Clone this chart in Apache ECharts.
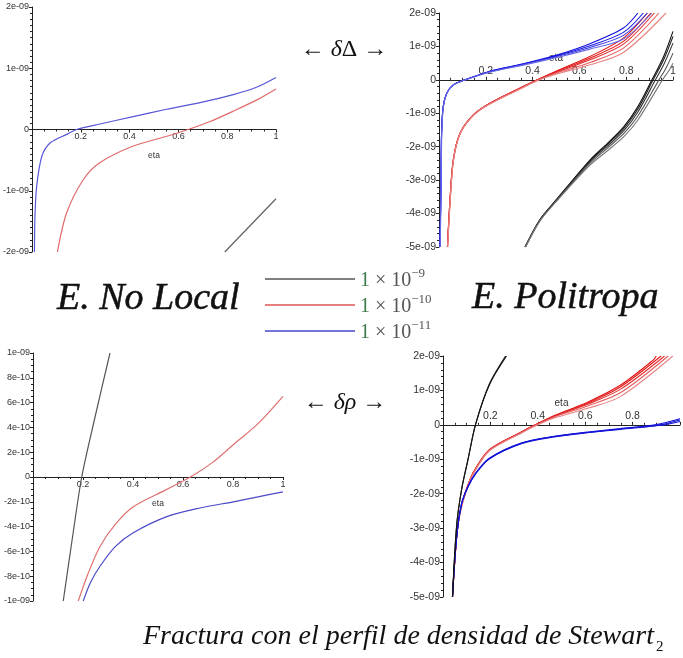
<!DOCTYPE html>
<html>
<head>
<meta charset="utf-8">
<script src="https://cdn.jsdelivr.net/npm/echarts@6/dist/echarts.min.js"></script>
<style>
  html, body { margin: 0; padding: 0; background: #fff; }
  #main { width: 683px; height: 658px; }
</style>
</head>
<body>
<div id="main"></div>
<script>
// x = eta, y in units of 1e-9
// top-left: E. No Local, delta Delta
const p1Black = [[0.79, -2.0], [1.0, -1.13]]
const p1Red = [[0.104, -2.0], [0.142, -1.36], [0.21, -0.82], [0.279, -0.54], [0.415, -0.27], [0.553, -0.11], [0.64, 0], [0.73, 0.13], [0.825, 0.3], [0.93, 0.5], [1.0, 0.66]]
const p1Blue = [[0.01, -2.0], [0.012, -1.42], [0.019, -0.93], [0.04, -0.44], [0.074, -0.22], [0.142, -0.08], [0.183, 0], [0.279, 0.09], [0.415, 0.21], [0.552, 0.33], [0.689, 0.44], [0.825, 0.57], [0.92, 0.69], [1.0, 0.85]]

// top-right: E. Politropa, delta Delta (bundles)
const p2Black = [
  [[0.368, -5], [0.43, -4.2], [0.5, -3.6], [0.645, -2.4], [0.72, -1.9], [0.79, -1.4], [0.85, -0.8], [0.91, 0], [0.96, 0.7], [1.0, 1.45]],
  [[0.368, -5], [0.43, -4.2], [0.5, -3.6], [0.645, -2.42], [0.72, -1.93], [0.79, -1.45], [0.85, -0.87], [0.915, 0], [0.96, 0.6], [1.0, 1.3]],
  [[0.368, -5], [0.43, -4.2], [0.5, -3.62], [0.645, -2.45], [0.72, -1.98], [0.79, -1.52], [0.85, -0.96], [0.925, 0], [0.96, 0.45], [1.0, 1.1]],
  [[0.37, -5], [0.43, -4.22], [0.5, -3.63], [0.645, -2.5], [0.72, -2.04], [0.79, -1.6], [0.85, -1.08], [0.94, 0], [0.97, 0.35], [1.0, 0.8]],
  [[0.37, -5], [0.43, -4.24], [0.5, -3.65], [0.645, -2.55], [0.72, -2.12], [0.79, -1.7], [0.85, -1.2], [0.955, 0], [0.98, 0.25], [1.0, 0.5]]
]
const p2Red = [
  [[0.036, -5], [0.047, -3.6], [0.061, -2.4], [0.09, -1.6], [0.147, -1.05], [0.218, -0.7], [0.36, -0.2], [0.42, 0], [0.5, 0.26], [0.645, 0.7], [0.788, 1.25], [0.89, 2]],
  [[0.036, -5], [0.047, -3.6], [0.061, -2.4], [0.09, -1.6], [0.147, -1.05], [0.218, -0.7], [0.36, -0.2], [0.42, 0], [0.5, 0.24], [0.645, 0.65], [0.788, 1.15], [0.905, 2]],
  [[0.036, -5], [0.047, -3.6], [0.061, -2.4], [0.09, -1.6], [0.147, -1.05], [0.218, -0.7], [0.36, -0.21], [0.422, 0], [0.5, 0.22], [0.645, 0.6], [0.788, 1.07], [0.92, 2]],
  [[0.037, -5], [0.048, -3.6], [0.062, -2.4], [0.091, -1.6], [0.148, -1.05], [0.218, -0.71], [0.36, -0.22], [0.425, 0], [0.5, 0.2], [0.645, 0.52], [0.788, 0.95], [0.94, 2]],
  [[0.037, -5], [0.048, -3.6], [0.062, -2.4], [0.091, -1.6], [0.148, -1.06], [0.218, -0.72], [0.36, -0.23], [0.43, 0], [0.5, 0.17], [0.645, 0.45], [0.788, 0.82], [0.97, 2]]
]
const p2Blue = [
  [[0.004, -5], [0.008, -3.4], [0.011, -1.6], [0.018, -0.8], [0.033, -0.4], [0.061, -0.15], [0.111, 0], [0.218, 0.26], [0.36, 0.48], [0.503, 0.74], [0.645, 1.08], [0.788, 1.55], [0.85, 2]],
  [[0.004, -5], [0.008, -3.4], [0.011, -1.6], [0.018, -0.8], [0.033, -0.4], [0.061, -0.15], [0.111, 0], [0.218, 0.25], [0.36, 0.47], [0.503, 0.72], [0.645, 1.02], [0.788, 1.42], [0.873, 2]],
  [[0.004, -5], [0.008, -3.4], [0.011, -1.6], [0.018, -0.8], [0.033, -0.4], [0.061, -0.15], [0.111, 0], [0.218, 0.24], [0.36, 0.46], [0.503, 0.7], [0.645, 0.97], [0.788, 1.33], [0.89, 2]],
  [[0.005, -5], [0.009, -3.4], [0.012, -1.6], [0.019, -0.8], [0.034, -0.4], [0.062, -0.15], [0.113, 0], [0.218, 0.23], [0.36, 0.44], [0.503, 0.67], [0.645, 0.92], [0.788, 1.22], [0.91, 2]]
]

// bottom-left: E. No Local, delta rho
const p3Black = [[0.121, -1.0], [0.157, -0.5], [0.195, 0], [0.25, 0.5], [0.308, 1.0]]
const p3Red = [[0.181, -1.0], [0.22, -0.78], [0.268, -0.56], [0.33, -0.38], [0.401, -0.24], [0.535, -0.1], [0.63, 0], [0.72, 0.12], [0.801, 0.26], [0.9, 0.43], [1.0, 0.65]]
const p3Blue = [[0.201, -1.0], [0.23, -0.85], [0.268, -0.72], [0.33, -0.56], [0.401, -0.45], [0.535, -0.32], [0.668, -0.25], [0.801, -0.2], [0.9, -0.16], [1.0, -0.12]]

// bottom-right: E. Politropa, delta rho (bundles)
const p4Black = [
  [[0.04, -5], [0.057, -2.96], [0.078, -1.9], [0.105, -1.03], [0.137, 0], [0.195, 1.18], [0.264, 2]],
  [[0.04, -5], [0.058, -2.9], [0.079, -1.85], [0.106, -0.98], [0.138, 0.03], [0.197, 1.18], [0.268, 2]]
]
const p4Red = [
  [[0.04, -5], [0.057, -3.3], [0.071, -2.57], [0.095, -1.95], [0.126, -1.41], [0.195, -0.73], [0.333, -0.2], [0.389, 0], [0.47, 0.27], [0.61, 0.66], [0.748, 1.15], [0.887, 1.88], [0.9, 2]],
  [[0.04, -5], [0.057, -3.3], [0.071, -2.57], [0.095, -1.95], [0.126, -1.41], [0.195, -0.73], [0.333, -0.2], [0.39, 0], [0.47, 0.26], [0.61, 0.63], [0.748, 1.1], [0.92, 2]],
  [[0.04, -5], [0.057, -3.3], [0.071, -2.57], [0.095, -1.95], [0.126, -1.42], [0.195, -0.74], [0.333, -0.21], [0.392, 0], [0.47, 0.25], [0.61, 0.6], [0.748, 1.03], [0.935, 2]],
  [[0.04, -5], [0.057, -3.3], [0.071, -2.58], [0.096, -1.95], [0.127, -1.42], [0.195, -0.75], [0.333, -0.22], [0.395, 0], [0.47, 0.23], [0.61, 0.55], [0.748, 0.93], [0.95, 2]],
  [[0.04, -5], [0.057, -3.3], [0.072, -2.58], [0.096, -1.96], [0.128, -1.43], [0.195, -0.76], [0.333, -0.23], [0.4, 0], [0.47, 0.2], [0.61, 0.48], [0.748, 0.82], [0.97, 2]]
]
const p4Blue = [
  [[0.04, -5], [0.057, -3.3], [0.078, -2.3], [0.105, -1.8], [0.137, -1.42], [0.195, -0.98], [0.333, -0.53], [0.47, -0.34], [0.61, -0.22], [0.748, -0.12], [0.914, 0], [1.0, 0.14]],
  [[0.04, -5], [0.057, -3.3], [0.078, -2.3], [0.105, -1.8], [0.137, -1.41], [0.195, -0.97], [0.333, -0.52], [0.47, -0.33], [0.61, -0.21], [0.748, -0.11], [0.9, 0.01], [1.0, 0.18]],
  [[0.04, -5], [0.057, -3.3], [0.078, -2.3], [0.105, -1.81], [0.137, -1.43], [0.195, -0.99], [0.333, -0.54], [0.47, -0.35], [0.61, -0.23], [0.748, -0.13], [0.93, 0], [1.0, 0.1]]
]

const levelNames = ['1e-9', '1e-10', '1e-11']
const levelExp = ['\u22129', '\u221210', '\u221211']

// Maple style 2e-09
function sci(v) {
  if (Math.abs(v) < 1e-6) return '0'
  return (v * 1e-9).toExponential(0).replace(/e-(\d)$/, 'e-0$1')
}

const grids = [
  { left: 32, top: 7, width: 244, height: 245 },
  { left: 439, top: 13, width: 234, height: 234 },
  { left: 33, top: 353, width: 250, height: 248 },
  { left: 443, top: 356, width: 241, height: 241 }
]
const yRange = [
  { min: -2, max: 2, interval: 1, minor: 10, fs: 9 },
  { min: -5, max: 2, interval: 1, minor: 5, fs: 10.5 },
  { min: -1, max: 1, interval: 0.2, minor: 4, fs: 9 },
  { min: -5, max: 2, interval: 1, minor: 5, fs: 10.5 }
]
const above = [false, true, false, true]

const axisColor = '#222'
// x axis sits on y = 0: shift it up from the bottom edge
const xAxes = grids.map((g, i) => ({
  gridIndex: i, type: 'value', min: 0, max: 1, interval: 0.2, position: 'bottom',
  offset: -g.height * (0 - yRange[i].min) / (yRange[i].max - yRange[i].min),
  axisLine: { onZero: false, lineStyle: { color: axisColor, width: 1 } },
  axisTick: { show: true, length: 3, inside: above[i], lineStyle: { color: axisColor } },
  minorTick: { show: true, splitNumber: 4, length: 2, lineStyle: { color: axisColor } },
  splitLine: { show: false },
  axisLabel: {
    inside: above[i], margin: 3, fontSize: yRange[i].fs, color: '#333', fontFamily: 'Liberation Sans',
    formatter: v => (v === 0 || (i === 3 && v === 1)) ? '' : String(+v.toFixed(1))
  },
  name: 'eta', nameLocation: 'middle', nameGap: above[i] ? -27 : 22, nameMoveOverlap: false,
  nameTextStyle: { fontSize: yRange[i].fs - 0.5, color: '#333', fontFamily: 'Liberation Sans' }
}))
const yAxes = grids.map((g, i) => ({
  gridIndex: i, type: 'value', min: yRange[i].min, max: yRange[i].max, interval: yRange[i].interval,
  axisLine: { show: true, onZero: false, lineStyle: { color: axisColor, width: 1 } },
  axisTick: { show: true, length: 3, lineStyle: { color: axisColor } },
  minorTick: { show: true, splitNumber: yRange[i].minor, length: 2, lineStyle: { color: axisColor } },
  splitLine: { show: false },
  axisLabel: { margin: 3, fontSize: yRange[i].fs, color: '#333', fontFamily: 'Liberation Sans', formatter: sci }
}))

function curve(level, gi, data, color, width) {
  return {
    name: levelNames[level], type: 'line', xAxisIndex: gi, yAxisIndex: gi, data: data,
    showSymbol: false, symbol: 'none', smooth: 0.3, silent: true,
    lineStyle: { color: color, width: width }, itemStyle: { color: color }
  }
}

const series = []
series.push(curve(0, 0, p1Black, '#606060', 1.2))
series.push(curve(1, 0, p1Red, '#e06a6a', 1.2))
series.push(curve(2, 0, p1Blue, '#5656d8', 1.2))

const p2BlackCol = ['#111', '#1a1a1a', '#333', '#555', '#777']
const p2RedCol = ['#e01010', '#e41818', '#e03030', '#e65c5c', '#e88484']
const p2BlueCol = ['#1010e0', '#1818e0', '#3a3ae0', '#6a6ae6']
p2Black.forEach((d, k) => series.push(curve(0, 1, d, p2BlackCol[k], 1.1)))
p2Red.forEach((d, k) => series.push(curve(1, 1, d, p2RedCol[k], 1.1)))
p2Blue.forEach((d, k) => series.push(curve(2, 1, d, p2BlueCol[k], 1.1)))

series.push(curve(0, 2, p3Black, '#555', 1.2))
series.push(curve(1, 2, p3Red, '#e07070', 1.2))
series.push(curve(2, 2, p3Blue, '#4a4ac8', 1.2))

const p4RedCol = ['#e01010', '#e41818', '#e03030', '#e65c5c', '#e88484']
p4Red.forEach((d, k) => series.push(curve(1, 3, d, p4RedCol[k], 1.1)))
p4Blue.forEach((d, k) => series.push(curve(2, 3, d, '#1414d8', 1.1)))
p4Black.forEach((d, k) => series.push(curve(0, 3, d, '#151515', 1.1)))

const serif = '"Liberation Serif", "DejaVu Serif", serif'
const heavy = { fill: '#111', stroke: '#111', lineWidth: 0.5 }

const option = {
  animation: false,
  backgroundColor: '#fff',
  grid: grids.map(g => Object.assign({ containLabel: false }, g)),
  xAxis: xAxes,
  yAxis: yAxes,
  series: series,
  legend: {
    orient: 'vertical', left: 260, top: 262, icon: 'rect',
    itemWidth: 90, itemHeight: 1.5, itemGap: 2, selectedMode: false,
    data: [
      { name: '1e-9', itemStyle: { color: '#555' } },
      { name: '1e-10', itemStyle: { color: '#e05555' } },
      { name: '1e-11', itemStyle: { color: '#4444cc' } }
    ],
    formatter: name => {
      const k = levelNames.indexOf(name)
      return '{g|1}{t| \u00d7 10}{s|' + levelExp[k] + '}'
    },
    textStyle: {
      fontFamily: serif, fontSize: 20, color: '#555', lineHeight: 24,
      rich: {
        g: { fontFamily: serif, fontSize: 20, color: '#3d7a4a', lineHeight: 24, verticalAlign: 'bottom' },
        t: { fontFamily: serif, fontSize: 20, color: '#555', lineHeight: 24, verticalAlign: 'bottom' },
        s: { fontFamily: serif, fontSize: 13, color: '#555', lineHeight: 13, verticalAlign: 'top' }
      }
    }
  },
  graphic: [
    { type: 'text', x: 344, y: 50, silent: true,
      style: { text: '\u2190 {d|\u03b4}{D|\u0394} \u2192', font: '24px ' + serif, fill: '#111', align: 'center', verticalAlign: 'middle',
        rich: { d: { font: 'italic 24px ' + serif, fill: '#111' }, D: { font: '24px ' + serif, fill: '#111' } } } },
    { type: 'text', x: 345, y: 403, silent: true,
      style: { text: '\u2190 {d|\u03b4\u03c1} \u2192', font: '24px ' + serif, fill: '#111', align: 'center', verticalAlign: 'middle',
        rich: { d: { font: 'italic 24px ' + serif, fill: '#111' } } } },
    { type: 'text', x: 57, y: 299, silent: true,
      style: Object.assign({ text: 'E. No Local', font: 'italic 38px ' + serif, align: 'left', verticalAlign: 'middle' }, heavy) },
    { type: 'text', x: 472, y: 298, silent: true,
      style: Object.assign({ text: 'E. Politropa', font: 'italic 38px ' + serif, align: 'left', verticalAlign: 'middle' }, heavy) },
    { type: 'text', x: 143, y: 634, silent: true,
      style: { text: '{m|Fractura con el perfil de densidad de Stewart}{s|2}', align: 'left', verticalAlign: 'middle',
        rich: {
          m: { font: 'italic 28px ' + serif, fill: '#111', lineHeight: 34, verticalAlign: 'bottom' },
          s: { font: '15px ' + serif, fill: '#111', lineHeight: 15, verticalAlign: 'bottom', padding: [0, 0, -4, 2] }
        } } }
  ]
}

const chart = echarts.init(document.getElementById('main'), null, { renderer: 'canvas' })
chart.setOption(option)
</script>
</body>
</html>
